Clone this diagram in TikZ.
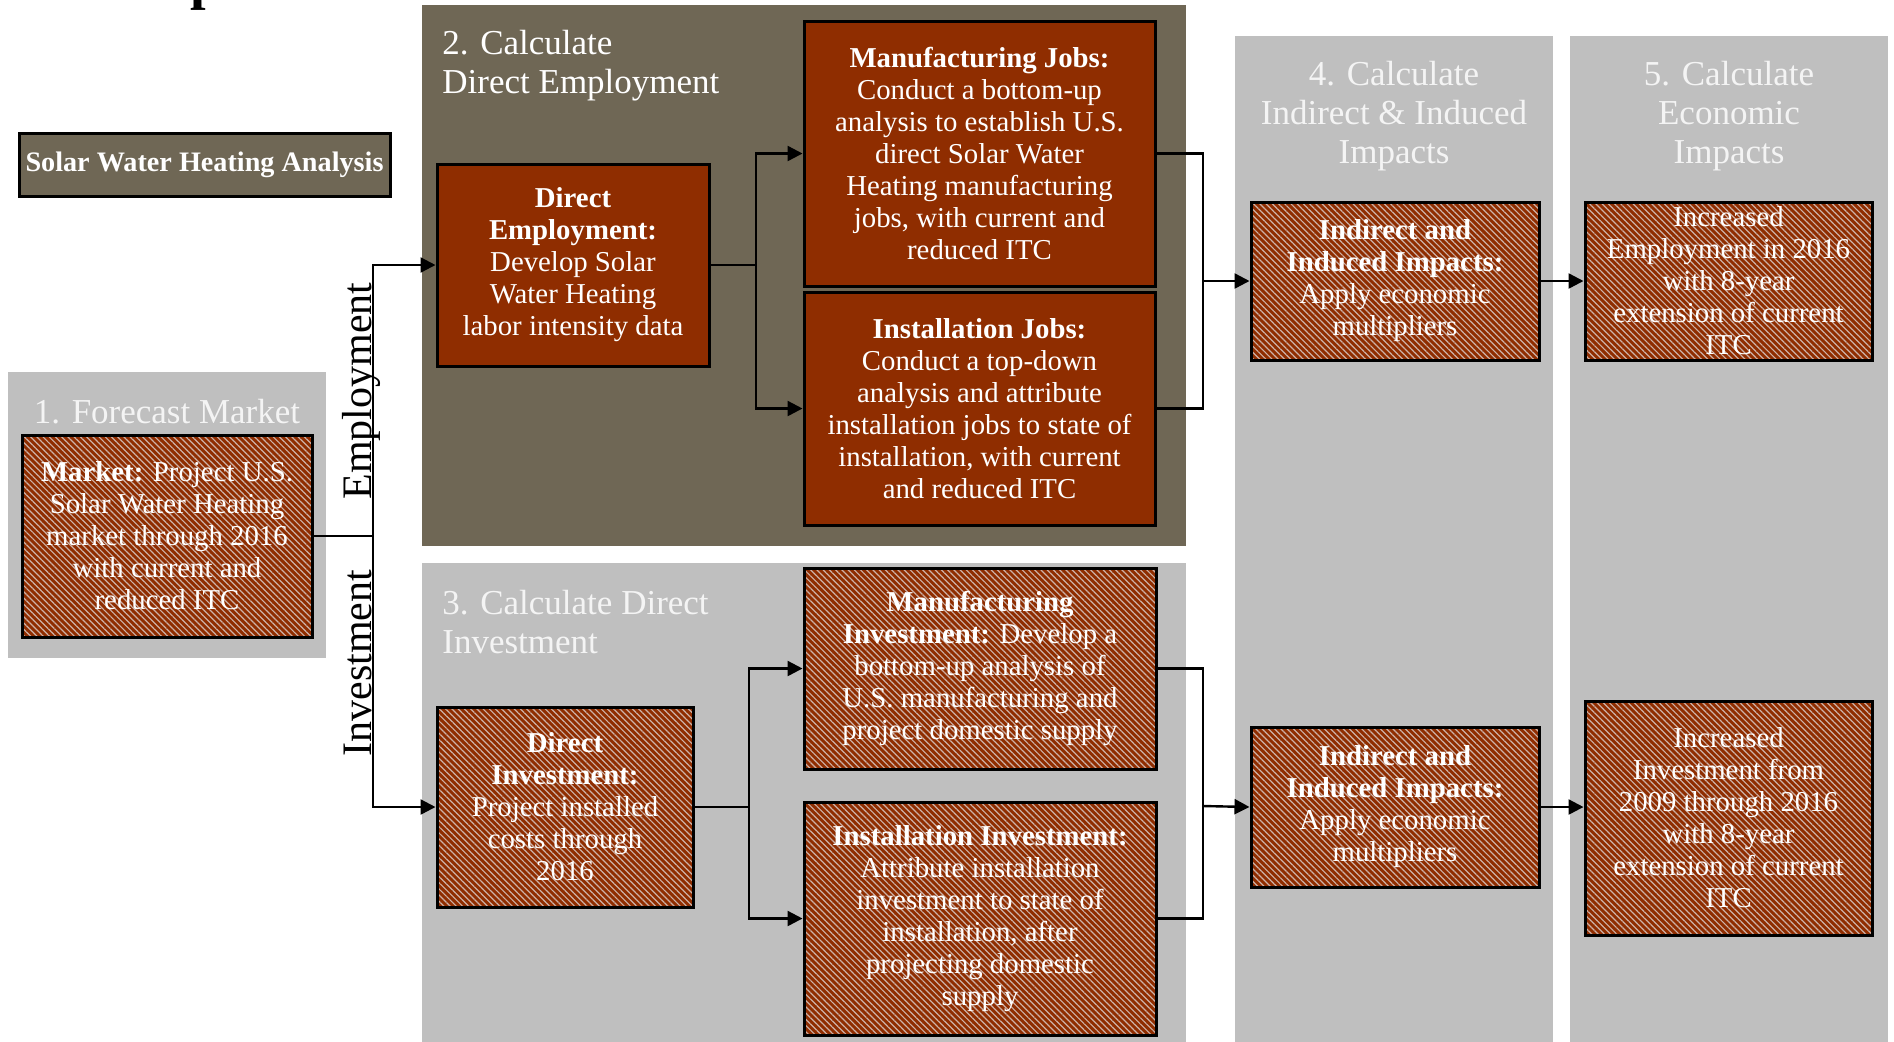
\documentclass[tikz,border=0pt]{standalone}
\usepackage{fontspec}
\setmainfont{Liberation Serif}
\usetikzlibrary{arrows.meta,patterns.meta}

\definecolor{rust}{RGB}{143,45,0}
\definecolor{taupe}{RGB}{111,103,85}
\definecolor{panelgray}{RGB}{191,191,191}
\definecolor{stripe}{RGB}{205,178,168}
\definecolor{paletext}{RGB}{244,244,244}

\newcommand\bxfont{\fontsize{14.4}{16}\selectfont}
\newcommand\ttlfont{\fontsize{17.5}{19.5}\selectfont}
\newcommand\lblfont{\fontsize{21}{23}\selectfont}

\begin{document}
\begin{tikzpicture}[x=0.5pt,y=-0.5pt,
  solidbox/.style={draw=black,line width=1.5pt,fill=rust,text=white,
    align=center,inner sep=0pt,font=\bxfont},
  hatchbox/.style={draw=black,line width=1.5pt,text=white,align=center,
    inner sep=0pt,font=\bxfont,preaction={fill=rust},
    pattern={Lines[angle=-45,distance=2.2pt,line width=0.6pt]},
    pattern color=stripe},
  coltitle/.style={text=paletext,font=\ttlfont,inner sep=0pt},
  lbl/.style={font=\lblfont,inner sep=0pt,rotate=90,anchor=base},
  conn/.style={line width=1.2pt,draw=black},
  arr/.style={conn,-{Triangle[length=7.5pt,width=7.5pt]}}]

\useasboundingbox (0,0) rectangle (1894,1041);

% heading fragment running off the top edge
\node[anchor=base west,inner sep=0pt,font=\fontsize{28}{30}\selectfont\bfseries] (head) at (190,-2) {p};

% column panels
\fill[panelgray] (8,372) rectangle (326,658);
\fill[taupe] (422,5) rectangle (1186,546);
\fill[panelgray] (422,563) rectangle (1186,1045);
\fill[panelgray] (1235,36) rectangle (1553,1045);
\fill[panelgray] (1570,36) rectangle (1888,1045);

% panel titles
\node[coltitle] (t1) at (167,412) {1. Forecast Market};
\node[coltitle,text=white,align=left,anchor=west] (t2) at (442,66) {2. Calculate\\Direct Employment};
\node[coltitle,align=left,anchor=west] (t3) at (442,622) {3. Calculate Direct\\Investment};
\node[coltitle,align=center] (t4) at (1394,116) {4. Calculate\\Indirect \& Induced\\Impacts};
\node[coltitle,align=center] (t5) at (1729,116) {5. Calculate\\Economic\\Impacts};

% analysis tag
\node[draw=black,line width=1.5pt,fill=taupe,text=white,inner sep=0pt,
  minimum width=371*0.5pt,minimum height=63*0.5pt,font=\fontsize{14.1}{16}\selectfont\bfseries] (swha) at (204.5,164.5) {Solar Water Heating Analysis};

% step 1
\node[hatchbox,minimum width=290*0.5pt,minimum height=202*0.5pt] (market) at (167,536)
  {\textbf{Market:} Project U.S.\\Solar Water Heating\\market through 2016\\with current and\\reduced ITC};

% step 2
\node[solidbox,minimum width=272*0.5pt,minimum height=202*0.5pt] (de) at (573,265)
  {\textbf{Direct}\\\textbf{Employment:}\\Develop Solar\\Water Heating\\labor intensity data};
\node[solidbox,minimum width=351*0.5pt,minimum height=265*0.5pt] (mj) at (979.5,153.5)
  {\textbf{Manufacturing Jobs:}\\Conduct a bottom-up\\analysis to establish U.S.\\direct Solar Water\\Heating manufacturing\\jobs, with current and\\reduced ITC};
\node[solidbox,minimum width=351*0.5pt,minimum height=233*0.5pt] (ij) at (979.5,408.5)
  {\textbf{Installation Jobs:}\\Conduct a top-down\\analysis and attribute\\installation jobs to state of\\installation, with current\\and reduced ITC};

% step 3
\node[hatchbox,minimum width=256*0.5pt,minimum height=200*0.5pt] (di) at (565,807)
  {\textbf{Direct}\\\textbf{Investment:}\\Project installed\\costs through\\2016};
\node[hatchbox,minimum width=352*0.5pt,minimum height=201*0.5pt] (mi) at (980,668.5)
  {\textbf{Manufacturing}\\\textbf{Investment:} Develop a\\bottom-up analysis of\\U.S. manufacturing and\\project domestic supply};
\node[hatchbox,minimum width=352*0.5pt,minimum height=233*0.5pt] (ii) at (980,918.5)
  {\textbf{Installation Investment:}\\Attribute installation\\investment to state of\\installation, after\\projecting domestic\\supply};

% step 4
\node[hatchbox,minimum width=288*0.5pt,minimum height=158*0.5pt] (ind1) at (1395,281)
  {\textbf{Indirect and}\\\textbf{Induced Impacts:}\\Apply economic\\multipliers};
\node[hatchbox,minimum width=288*0.5pt,minimum height=160*0.5pt] (ind2) at (1395,807)
  {\textbf{Indirect and}\\\textbf{Induced Impacts:}\\Apply economic\\multipliers};

% step 5
\node[hatchbox,minimum width=287*0.5pt,minimum height=158*0.5pt] (r1) at (1728.5,281)
  {Increased\\Employment in 2016\\with 8-year\\extension of current\\ITC};
\node[hatchbox,minimum width=287*0.5pt,minimum height=234*0.5pt] (r2) at (1728.5,818)
  {Increased\\Investment from\\2009 through 2016\\with 8-year\\extension of current\\ITC};

% branch labels
\node[lbl] (lemp) at (371,391) {Employment};
\node[lbl] (linv) at (371,663) {Investment};

% junction points
\coordinate (jm) at (373,536);
\coordinate (je) at (756,265);
\coordinate (ji) at (749,807);
\coordinate (ke) at (1203,281);
\coordinate (ki) at (1203,806);

% market split
\draw[conn] (market.east) -- (jm);
\draw[arr] (jm) |- (de.west);
\draw[arr] (jm) |- (di.west);

% employment branch
\draw[conn] (de.east) -- (je);
\draw[arr] (je) |- (mj.west);
\draw[arr] (je) |- (ij.west);
\draw[conn] (mj.east) -| (ke);
\draw[conn] (ij.east) -| (ke);
\draw[arr] (ke) -- (ind1.west);
\draw[arr] (ind1.east) -- (r1.west);

% investment branch
\draw[conn] (di.east) -- (ji);
\draw[arr] (ji) |- (mi.west);
\draw[arr] (ji) |- (ii.west);
\draw[conn] (mi.east) -| (ki);
\draw[conn] (ii.east) -| (ki);
\draw[arr] (ki) -- (ind2.west);
\draw[arr] (ind2.east) -- (ind2.east -| r2.west);
\end{tikzpicture}
\end{document}
